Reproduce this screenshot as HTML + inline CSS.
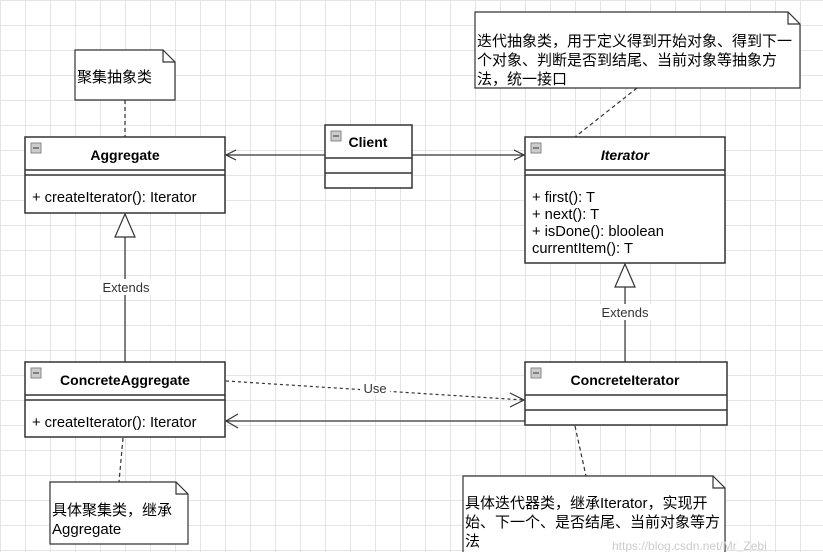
<!DOCTYPE html>
<html><head><meta charset="utf-8"><style>
body{margin:0;width:823px;height:552px;overflow:hidden;background:#fff;
background-image:linear-gradient(#e4e4e4 1px,transparent 1px),linear-gradient(90deg,#e4e4e4 1px,transparent 1px);background-size:25px 25px;background-position:0 0;
font-family:"Liberation Sans","Noto Sans CJK SC",sans-serif;}
</style></head><body>
<svg width="823" height="552" style="position:absolute;left:0;top:0" font-family="Liberation Sans, Noto Sans CJK SC, sans-serif">
<defs>
<g id="ic"><rect width="10" height="10" fill="#ccc" stroke="#888"/><line x1="2" y1="5" x2="8" y2="5" stroke="#333"/></g>
</defs>
<g stroke="#333" fill="none" stroke-width="1.2">
<line x1="125" y1="100" x2="125" y2="137" stroke-dasharray="4,3"/>
<line x1="637" y1="88" x2="575" y2="137" stroke-dasharray="4,3"/>
<line x1="123" y1="438" x2="119" y2="482" stroke-dasharray="4,3"/>
<line x1="575" y1="426" x2="586" y2="476" stroke-dasharray="4,3"/>
<line x1="325" y1="155" x2="226" y2="155"/><polyline points="236,150 226,155 236,160"/>
<line x1="412" y1="155" x2="524" y2="155"/><polyline points="514,150 524,155 514,160"/>
<line x1="125" y1="237" x2="125" y2="362"/><polygon points="125,214 115,237 135,237" fill="#fff"/>
<line x1="625" y1="287" x2="625" y2="362"/><polygon points="625,264 615,287 635,287" fill="#fff"/>
<line x1="226" y1="381" x2="524" y2="400" stroke-dasharray="3,3"/><polyline points="510,393 524,400 510,407"/>
<line x1="525" y1="421" x2="226" y2="421"/><polyline points="238,414 226,421 238,428"/>
</g>
<rect x="360" y="381" width="30" height="14" fill="#fff"/>
<text x="375" y="393" font-size="13" text-anchor="middle" fill="#333">Use</text>
<rect x="100" y="279" width="52" height="16" fill="#fff"/>
<text x="126" y="292" font-size="13" text-anchor="middle" fill="#333">Extends</text>
<rect x="598" y="304" width="54" height="16" fill="#fff"/>
<text x="625" y="317" font-size="13" text-anchor="middle" fill="#333">Extends</text>

<g stroke="#333" fill="#fff" stroke-width="1.2">
<path d="M75,50 H163 L175,62 V100 H75 Z"/><path d="M163,50 V62 H175" fill="none"/>
<path d="M475,12 H788 L800,24 V88 H475 Z"/><path d="M788,12 V24 H800" fill="none"/>
<path d="M50,482 H176 L188,494 V544 H50 Z"/><path d="M176,482 V494 H188" fill="none"/>
<path d="M463,476 H713 L725,488 V556 H463 Z"/><path d="M713,476 V488 H725" fill="none"/>
</g>
<g font-size="15" fill="#000">
<text x="77" y="82">聚集抽象类</text>
<text x="477" y="46">迭代抽象类，用于定义得到开始对象、得到下一</text>
<text x="477" y="65">个对象、判断是否到结尾、当前对象等抽象方</text>
<text x="477" y="84">法，统一接口</text>
<text x="52" y="515">具体聚集类，继承</text>
<text x="52" y="534">Aggregate</text>
<text x="465" y="508">具体迭代器类，继承Iterator，实现开</text>
<text x="465" y="527">始、下一个、是否结尾、当前对象等方</text>
<text x="465" y="546">法</text>
</g>

<g stroke="#333" fill="#fff" stroke-width="1.5">
<rect x="25" y="137" width="200" height="76"/><line x1="25" y1="170" x2="225" y2="170"/><line x1="25" y1="175" x2="225" y2="175"/>
<rect x="325" y="125" width="87" height="63"/><line x1="325" y1="158" x2="412" y2="158"/><line x1="325" y1="173" x2="412" y2="173"/>
<rect x="525" y="137" width="200" height="126"/><line x1="525" y1="170" x2="725" y2="170"/><line x1="525" y1="175" x2="725" y2="175"/>
<rect x="25" y="362" width="200" height="75"/><line x1="25" y1="395" x2="225" y2="395"/><line x1="25" y1="400" x2="225" y2="400"/>
<rect x="525" y="362" width="202" height="63"/><line x1="525" y1="395" x2="727" y2="395"/><line x1="525" y1="410" x2="727" y2="410"/>
</g>
<use href="#ic" x="31" y="143"/><use href="#ic" x="331" y="131"/><use href="#ic" x="531" y="143"/><use href="#ic" x="31" y="368"/><use href="#ic" x="531" y="368"/>
<g font-size="14" font-weight="bold" fill="#000" text-anchor="middle">
<text x="125" y="160">Aggregate</text>
<text x="368" y="147">Client</text>
<text x="625" y="160" font-style="italic">Iterator</text>
<text x="125" y="385">ConcreteAggregate</text>
<text x="625" y="385">ConcreteIterator</text>
</g>
<g font-size="14.7" fill="#000">
<text x="32" y="202">+ createIterator(): Iterator</text>
<text x="532" y="202">+ first(): T</text>
<text x="532" y="219">+ next(): T</text>
<text x="532" y="236">+ isDone(): bloolean</text>
<text x="532" y="253">currentItem(): T</text>
<text x="32" y="427">+ createIterator(): Iterator</text>
</g>
<text x="612" y="550" font-size="12" fill="#ccc">https://blog.csdn.net/Mr_Zebi</text>
</svg>
</body></html>
